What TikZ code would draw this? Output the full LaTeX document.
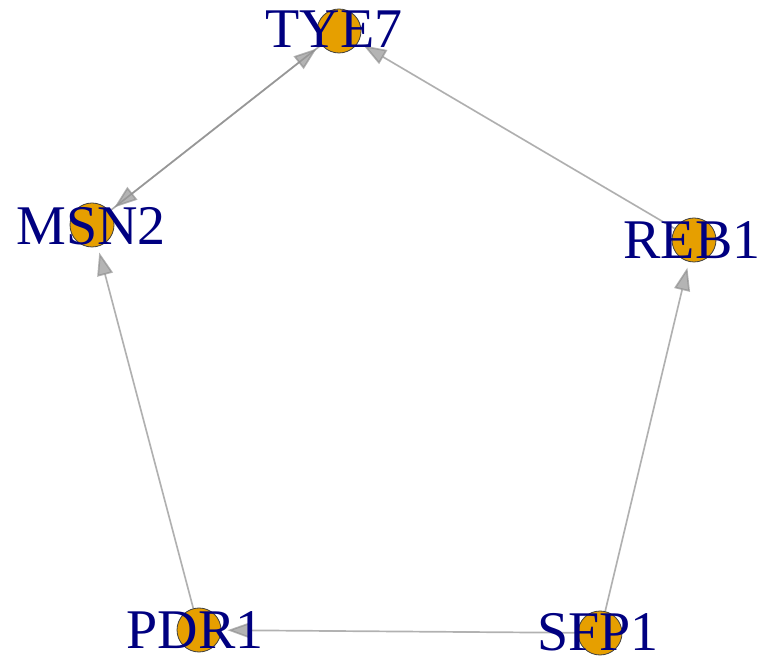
\documentclass[tikz,border=0pt]{standalone}
\usepackage{fontspec}
\setmainfont{Liberation Serif}
\usetikzlibrary{arrows.meta,backgrounds}
\definecolor{VertexOrange}{HTML}{E69F00}
\definecolor{LabelNavy}{HTML}{000080}
\definecolor{EdgeGray}{HTML}{8C8C8C}

\begin{document}
\begin{tikzpicture}[
x=0.5pt,y=-0.5pt,
vtx/.style={circle,draw=black!75,line width=0.4pt,fill=VertexOrange,minimum size=22pt,inner sep=0pt},
lbl/.style={text=LabelNavy,font=\fontsize{28}{30}\selectfont,inner sep=0pt},
arr/.style={-{Triangle[length=11.5pt,width=8pt]},draw=EdgeGray,fill=EdgeGray,opacity=0.65,line width=0.85pt,shorten >=3pt}
]
\useasboundingbox (0,0) rectangle (766,662);
% vertices
\node[vtx] (tye) at (339,31) {};
\node[vtx] (msn) at (92,225) {};
\node[vtx] (reb) at (694,240) {};
\node[vtx] (pdr) at (199,630) {};
\node[vtx] (sfp) at (600,633) {};
% labels on top
\node[lbl] (tyeL) at (334,29) {TYE7};
\node[lbl] (msnL) at (91,226) {MSN2};
\node[lbl] (rebL) at (692,240) {REB1};
\node[lbl] (pdrL) at (195,630) {PDR1};
\node[lbl] (sfpL) at (598,632) {SFP1};
% edges behind
\begin{scope}[on background layer]
\draw[arr] (msn) -- (tye);
\draw[arr] (tye) -- (msn);
\draw[arr] (reb) -- (tye);
\draw[arr] (sfp) -- (reb);
\draw[arr] (sfp) -- (pdr);
\draw[arr] (pdr) -- (msn);
\end{scope}
\end{tikzpicture}
\end{document}
